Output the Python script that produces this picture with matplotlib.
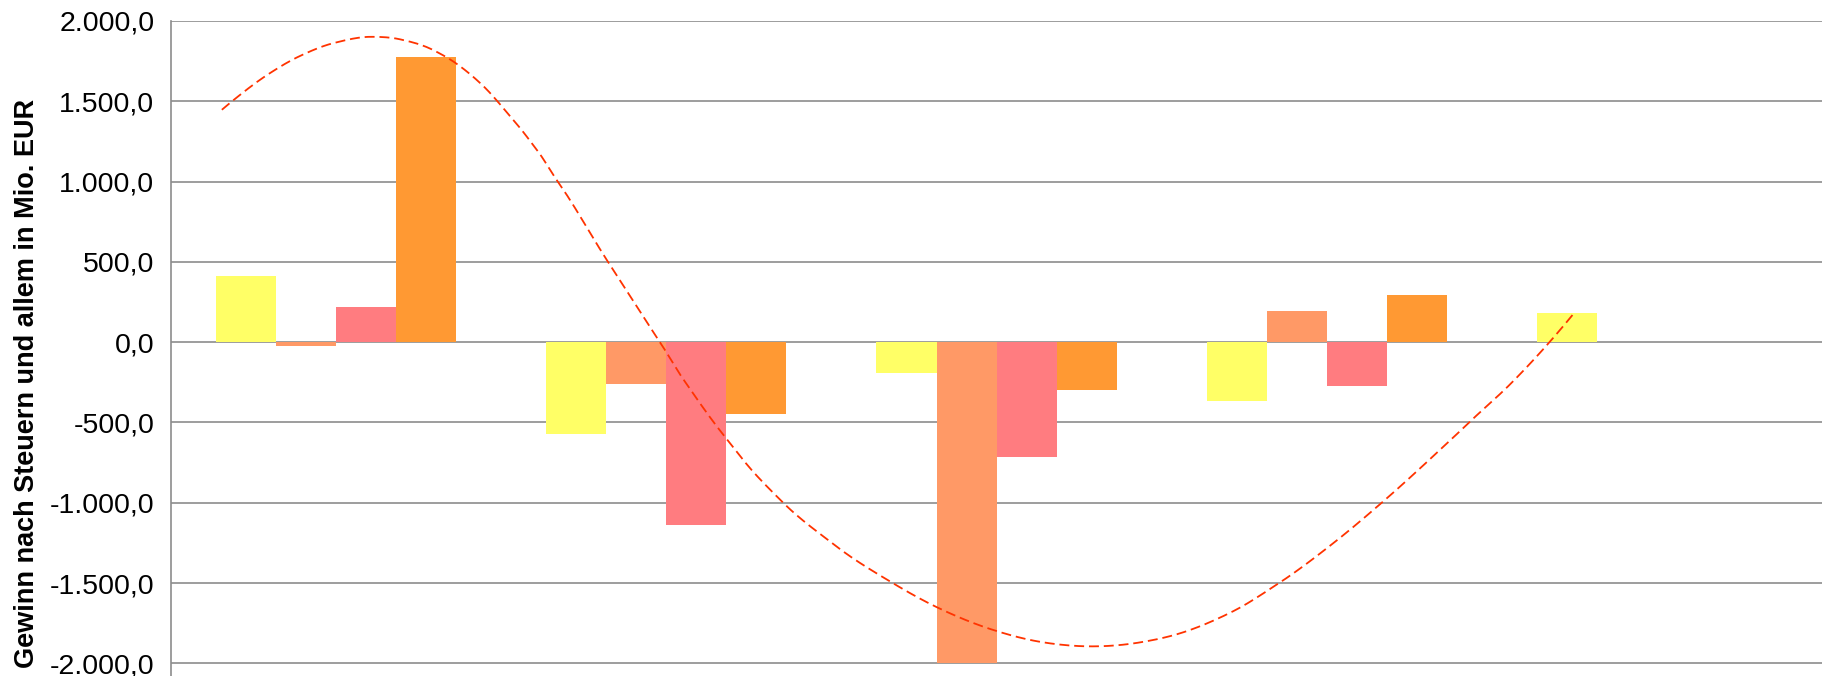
import numpy as np
import matplotlib.pyplot as plt

# bar values (Mio. EUR), 5 groups, 4 series; last group has only the first series
series_1 = [412, -570, -195, -367, 183]
series_2 = [-27, -263, -1995, 191, np.nan]
series_3 = [219, -1139, -716, -276, np.nan]
series_4 = [1778, -446, -295, 293, np.nan]
colors = ['#FFFF66', '#FF9966', '#FF7C80', '#FF9933']

# dashed trend curve (x in category units)
trend_x = [-0.346, -0.311, -0.210, -0.109, -0.008, 0.108, 0.194, 0.294, 0.365, 0.446,
           0.537, 0.612, 0.668, 0.829, 0.860, 0.976, 1.051, 1.173, 1.263, 1.354,
           1.506, 1.683, 1.819, 1.990, 2.142, 2.283, 2.435, 2.576, 2.717, 2.859,
           3.020, 3.169, 3.368, 3.434, 3.555, 3.671, 3.747]
trend_y = [1448, 1506, 1656, 1781, 1865, 1902, 1885, 1809, 1735, 1600,
           1402, 1163, 999, 491, 387, 4, -214, -586, -814, -1000,
           -1248, -1497, -1652, -1791, -1870, -1897, -1866, -1801, -1680, -1493,
           -1249, -1000, -607, -492, -270, 0, 172]

yticks = [2000, 1500, 1000, 500, 0, -500, -1000, -1500, -2000]


def fmt(v):
    s = '{:,.1f}'.format(v)
    return s.replace(',', 'X').replace('.', ',').replace('X', '.')


def smooth(xs, ys, span=0.35, n=20):
    # local quadratic fit at each point (evens out reading noise),
    # then cubic hermite pieces between the points
    xs = np.asarray(xs, float)
    ys = np.asarray(ys, float)
    val = np.empty_like(ys)
    der = np.empty_like(ys)
    for i, x0 in enumerate(xs):
        sel = np.abs(xs - x0) <= span
        c = np.polyfit(xs[sel] - x0, ys[sel], 2)
        val[i] = c[2]
        der[i] = c[1]
    out_x, out_y = [], []
    for i in range(len(xs) - 1):
        h = xs[i + 1] - xs[i]
        t = np.linspace(0, 1, n, endpoint=False)
        h00 = 2 * t**3 - 3 * t**2 + 1
        h10 = t**3 - 2 * t**2 + t
        h01 = -2 * t**3 + 3 * t**2
        h11 = t**3 - t**2
        out_x.append(xs[i] + t * h)
        out_y.append(h00 * val[i] + h10 * h * der[i] + h01 * val[i + 1] + h11 * h * der[i + 1])
    out_x.append([xs[-1]])
    out_y.append([val[-1]])
    return np.concatenate(out_x), np.concatenate(out_y)


def main():
    plt.rcParams['font.family'] = ['Liberation Sans', 'DejaVu Sans']
    fig = plt.figure(figsize=(18.25, 6.76), dpi=100)
    ax = fig.add_axes([0.0937, -0.1, 0.9047, 1.069])

    x = np.arange(5)
    w = 1 / 5.5
    for j, vals in enumerate([series_1, series_2, series_3, series_4]):
        ax.bar(x + (j - 1.5) * w, vals, width=w, color=colors[j], zorder=2)

    tx, ty = smooth(trend_x, trend_y)
    ax.plot(tx, ty, color='#FF3300', lw=1.3,
            linestyle=(0, (5.5, 2.7)), zorder=3)

    ax.set_xlim(-0.5, 4.5)
    ax.set_ylim(-2500, 2000)
    ax.set_yticks(yticks)
    ax.set_yticklabels([fmt(v) for v in yticks], fontsize=20.5)
    ax.set_xticks([])
    ax.tick_params(axis='y', length=0, pad=12)
    ax.yaxis.grid(True, color='#8C8C8C', lw=1.2, zorder=1)
    ax.set_axisbelow(True)
    for s in ['top', 'right', 'bottom']:
        ax.spines[s].set_visible(False)
    ax.spines['left'].set_color('#8C8C8C')
    ax.spines['left'].set_linewidth(1.2)

    fig.text(0.015, 0.433, 'Gewinn nach Steuern und allem in Mio. EUR',
             rotation=90, fontsize=19.5, fontweight='bold', ha='center', va='center')

    fig.savefig('out.png', dpi=100)


if __name__ == '__main__':
    main()
